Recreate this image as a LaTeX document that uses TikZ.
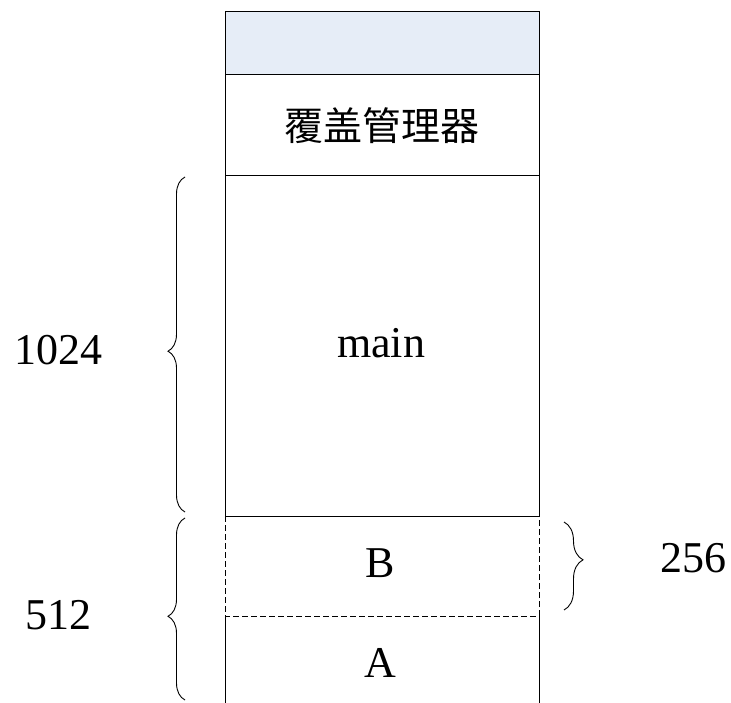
\documentclass[tikz,border=0pt]{standalone}
\usepackage{fontspec}
\setmainfont{Liberation Serif}
\newfontfamily\cjk{Noto Sans CJK SC}
\usetikzlibrary{decorations.pathreplacing}
\definecolor{bandblue}{RGB}{230,237,247}
\tikzset{
  lbl/.style={font=\fontsize{44}{50}\selectfont, inner sep=0pt},
  cjklbl/.style={font=\cjk\fontsize{39}{46}\selectfont, inner sep=0pt},
  wall/.style={line width=1pt, black},
  dwall/.style={line width=0.8pt, black, dash pattern=on 6pt off 3pt},
  bracestyle/.style={line width=0.9pt, decorate},
}
\begin{document}
\begin{tikzpicture}[x=1pt,y=-1pt]
\useasboundingbox (0,0) rectangle (731,703);
% band
\fill[bandblue] (225,12) rectangle (539,75);
% coordinates
\coordinate (tl) at (225,12);
\coordinate (tr) at (539,12);
\coordinate (ml) at (225,516);
\coordinate (mr) at (539,516);
\coordinate (bl) at (225,616);
\coordinate (br) at (539,616);
\coordinate (el) at (225,703);
\coordinate (er) at (539,703);
% walls
\draw[wall] (ml) -- (tl) -- (tr) -- (mr);
\draw[wall] (225,75) -- (539,75);
\draw[wall] (225,176) -- (539,176);
\draw[wall] (ml) -- (mr);
\draw[dwall] (ml) -- (bl) -- (br) -- (mr);
\draw[wall] (bl) -- (el);
\draw[wall] (br) -- (er);
% labels
\node[cjklbl] (ovl) at (382,126) {覆盖管理器};
\node[lbl] (main) at (381,343) {main};
\node[lbl] (b) at (380.5,563.5) {B};
\node[lbl] (a) at (380,663) {A};
\node[lbl] (n1024) at (58.5,350) {1024};
\node[lbl] (n512) at (58.5,615) {512};
\node[lbl] (n256) at (693,558) {256};
% braces
\coordinate (b1s) at (185,512);
\coordinate (b1e) at (185,177);
\coordinate (b2s) at (185,700);
\coordinate (b2e) at (185,518);
\coordinate (b3s) at (564,522);
\coordinate (b3e) at (564,610);
\draw[bracestyle, decoration={brace, amplitude=17pt, aspect=0.48}] (b1s) -- (b1e);
\draw[bracestyle, decoration={brace, amplitude=17pt, aspect=0.46}] (b2s) -- (b2e);
\draw[bracestyle, decoration={brace, amplitude=19pt, aspect=0.43}] (b3s) -- (b3e);
\end{tikzpicture}
\end{document}
